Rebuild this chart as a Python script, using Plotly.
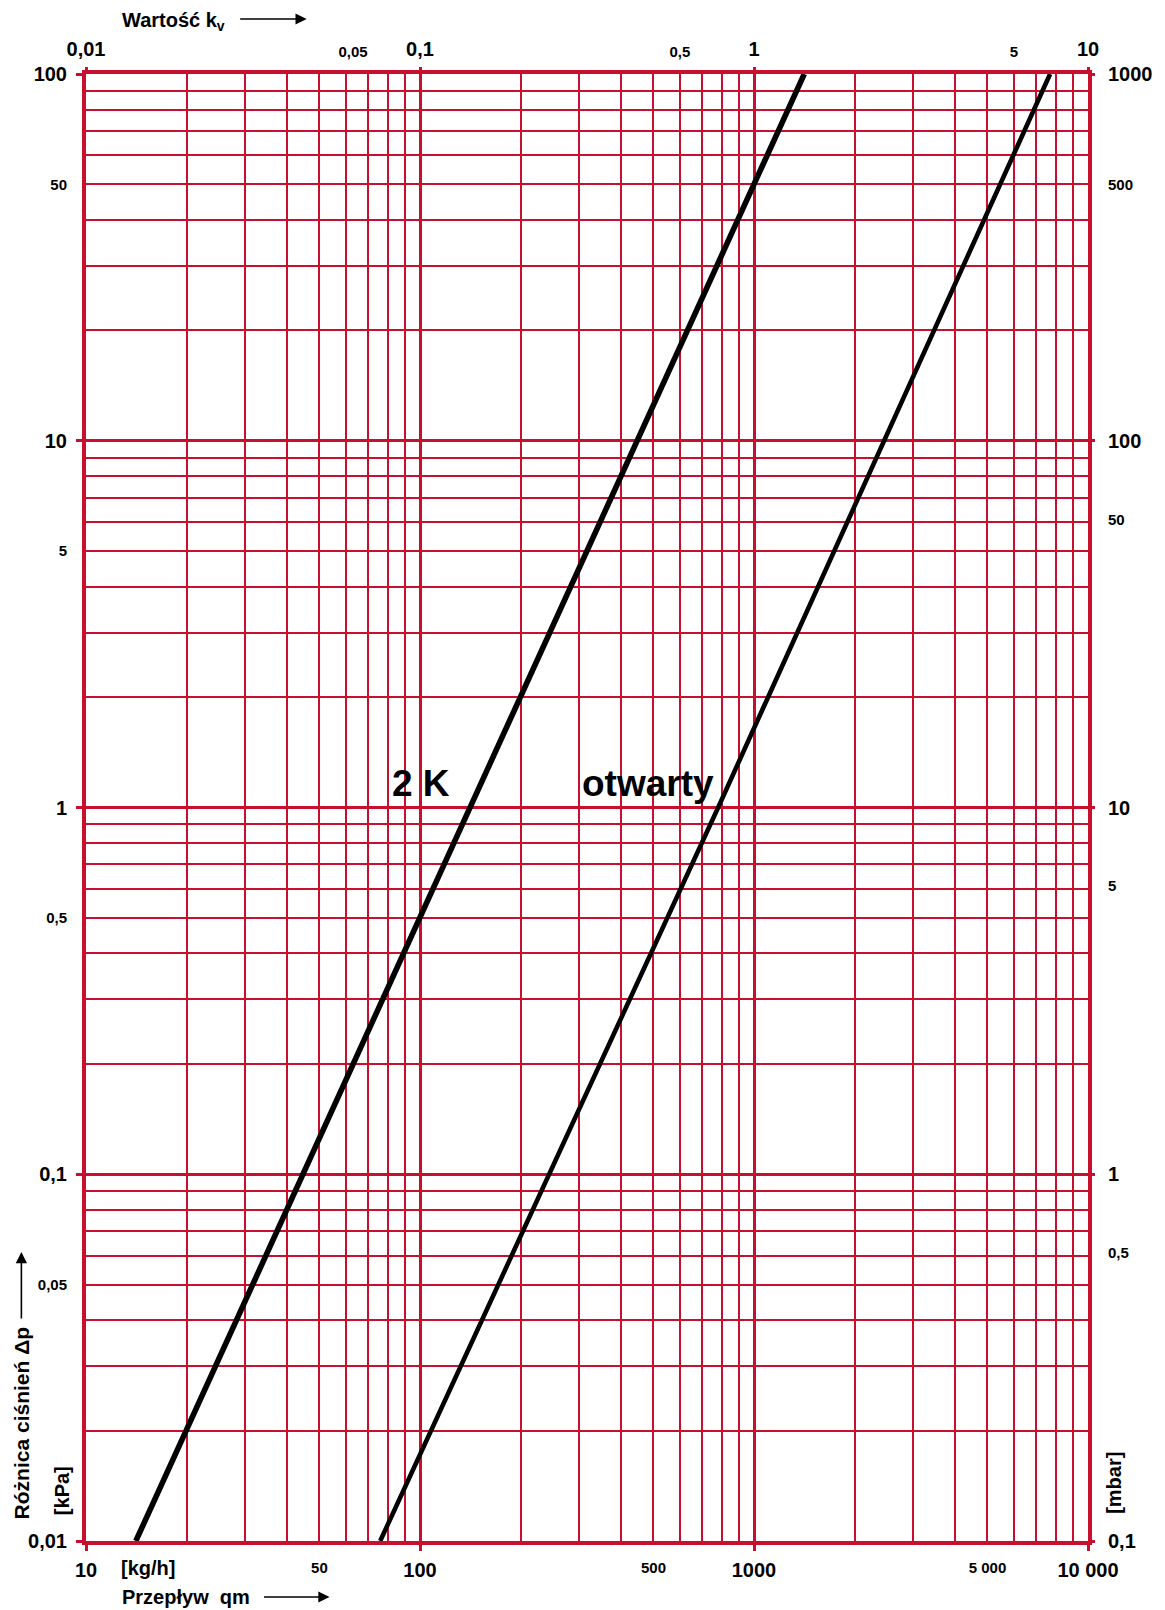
import plotly.graph_objects as go

RED = "#c8102e"
FONT = "Liberation Sans"

# przepływ qm [kg/h] i różnica ciśnień Δp [kPa]
qm_2k = [14.1, 141, 1414]
dp_2k = [0.01, 1, 100]
qm_open = [76, 781, 7700]
dp_open = [0.01, 1, 100]

# opisy osi
qm_major = [10, 100, 1000, 10000]
qm_major_text = ["10", "100", "1000", "10 000"]
qm_minor = [50, 500, 5000]
qm_minor_text = ["50", "500", "5 000"]

kv_major = [0.01, 0.1, 1, 10]
kv_major_text = ["0,01", "0,1", "1", "10"]
# na oryginale te opisy stoją nieco na prawo od swoich linii
kv_minor_pos = [0.063, 0.6, 6.0]
kv_minor_text = ["0,05", "0,5", "5"]

dp_major = [0.01, 0.1, 1, 10, 100]
dp_major_text = ["0,01", "0,1", "1", "10", "100"]
dp_minor = [0.05, 0.5, 5, 50]
dp_minor_text = ["0,05", "0,5", "5", "50"]

mbar_major = [0.1, 1, 10, 100, 1000]
mbar_major_text = ["0,1", "1", "10", "100", "1000"]
# jak na oryginale: 50, 5 i 0,5 przesunięte w górę
mbar_minor_pos = [0.61, 6.1, 61, 500]
mbar_minor_text = ["0,5", "5", "50", "500"]

# strona ma domyślny margines body 8 px
OFF = 8
W, H = 1165 - OFF, 1610 - OFF
L, R, T, B = 86, 1094, 74, 1541   # obszar wykresu we współrzędnych strony


def px(x):
    return (x - L) / (R - L)


def py(y):
    return (B - y) / (B - T)


def grid_vals(lo, hi):
    return [k * 10 ** e for e in range(lo, hi) for k in range(2, 10)]


major_font = dict(family=FONT, size=20, color="black", weight="bold")
minor_font = dict(family=FONT, size=15, color="black", weight="bold")

fig = go.Figure()

fig.add_trace(go.Scatter(x=qm_2k, y=dp_2k, mode="lines",
                         line=dict(color="black", width=5.6),
                         showlegend=False, hoverinfo="skip"))
fig.add_trace(go.Scatter(x=qm_open, y=dp_open, mode="lines",
                         line=dict(color="black", width=4.6),
                         showlegend=False, hoverinfo="skip"))
# puste ślady, żeby osie nakładane zostały narysowane
fig.add_trace(go.Scatter(x=[], y=[], xaxis="x2", yaxis="y2", showlegend=False))
fig.add_trace(go.Scatter(x=[], y=[], xaxis="x3", yaxis="y3", showlegend=False))
fig.add_trace(go.Scatter(x=[], y=[], xaxis="x4", yaxis="y4", showlegend=False))

common = dict(type="log", zeroline=False, fixedrange=True)

fig.update_layout(
    width=W, height=H,
    margin=dict(l=L - OFF, r=1165 - R, t=T - OFF, b=1610 - B),
    paper_bgcolor="white", plot_bgcolor="white",
    showlegend=False,
    xaxis=dict(
        **common, range=[1, 4], side="bottom",
        tickmode="array", tickvals=qm_major, ticktext=qm_major_text,
        tickfont=major_font, ticks="outside", ticklen=6, tickwidth=3,
        tickcolor=RED, ticklabelstandoff=2,
        showgrid=True, gridcolor=RED, gridwidth=3,
        minor=dict(tickmode="array", tickvals=grid_vals(1, 4),
                   showgrid=True, gridcolor=RED, gridwidth=1.6, ticks=""),
        showline=True, linecolor=RED, linewidth=4, mirror=True,
    ),
    yaxis=dict(
        **common, range=[-2, 2], side="left",
        tickmode="array", tickvals=dp_major, ticktext=dp_major_text,
        tickfont=major_font, ticks="outside", ticklen=6, tickwidth=3,
        tickcolor=RED, ticklabelstandoff=5,
        showgrid=True, gridcolor=RED, gridwidth=3,
        minor=dict(tickmode="array", tickvals=grid_vals(-2, 2),
                   showgrid=True, gridcolor=RED, gridwidth=1.6, ticks=""),
        showline=True, linecolor=RED, linewidth=4, mirror=True,
    ),
    xaxis2=dict(
        **common, range=[-2, 1], side="top", overlaying="x", anchor="y",
        tickmode="array", tickvals=kv_major, ticktext=kv_major_text,
        tickfont=major_font, ticks="outside", ticklen=6, tickwidth=3,
        tickcolor=RED, ticklabelstandoff=3, showgrid=False, showline=False,
    ),
    yaxis2=dict(
        **common, range=[-1, 3], side="right", overlaying="y", anchor="x",
        tickmode="array", tickvals=mbar_major, ticktext=mbar_major_text,
        tickfont=major_font, ticks="outside", ticklen=6, tickwidth=3,
        tickcolor=RED, ticklabelstandoff=9, showgrid=False, showline=False,
    ),
    xaxis3=dict(
        **common, range=[1, 4], side="bottom", overlaying="x", anchor="y",
        tickmode="array", tickvals=qm_minor, ticktext=qm_minor_text,
        tickfont=minor_font, ticks="", ticklabelstandoff=16,
        showgrid=False, showline=False,
    ),
    yaxis3=dict(
        **common, range=[-2, 2], side="left", overlaying="y", anchor="x",
        tickmode="array", tickvals=dp_minor, ticktext=dp_minor_text,
        tickfont=minor_font, ticks="", ticklabelstandoff=18,
        showgrid=False, showline=False,
    ),
    xaxis4=dict(
        **common, range=[-2, 1], side="top", overlaying="x", anchor="y",
        tickmode="array", tickvals=kv_minor_pos, ticktext=kv_minor_text,
        tickfont=minor_font, ticks="", ticklabelstandoff=13,
        showgrid=False, showline=False,
    ),
    yaxis4=dict(
        **common, range=[-1, 3], side="right", overlaying="y", anchor="x",
        tickmode="array", tickvals=mbar_minor_pos, ticktext=mbar_minor_text,
        tickfont=minor_font, ticks="", ticklabelstandoff=19,
        showgrid=False, showline=False,
    ),
)

title_font = dict(family=FONT, size=20, color="black", weight="bold")
vert_font = dict(family=FONT, size=21, color="black", weight="bold")
big_font = dict(family=FONT, size=37, color="black", weight="bold")

texts = [
    dict(text="Wartość k<sub>v</sub>", x=px(120), y=py(21), xanchor="left",
         yanchor="middle", font=title_font),
    dict(text="[kg/h]", x=px(119), y=py(1568), xanchor="left",
         yanchor="middle", font=title_font),
    dict(text="Przepływ&nbsp;&nbsp;qm", x=px(120), y=py(1597), xanchor="left",
         yanchor="middle", font=title_font),
    dict(text="Różnica ciśnień Δp", x=px(21), y=py(1423), xanchor="center",
         yanchor="middle", textangle=-90, font=vert_font),
    dict(text="[kPa]", x=px(62), y=py(1491), xanchor="center",
         yanchor="middle", textangle=-90, font=title_font),
    dict(text="[mbar]", x=px(1120), y=py(1483), xanchor="center",
         yanchor="middle", textangle=-90, font=title_font),
    dict(text="2 K", x=px(423), y=py(783), xanchor="center",
         yanchor="middle", font=big_font),
    dict(text="otwarty", x=px(651), y=py(783), xanchor="center",
         yanchor="middle", font=big_font),
]
for t in texts:
    fig.add_annotation(**t, xref="paper", yref="paper", showarrow=False)

# strzałki przy opisach osi: (grot x, grot y, przesunięcie ogona w pikselach)
arrows = [
    dict(x=px(308), y=py(19), ax=-68, ay=0),
    dict(x=px(331), y=py(1597), ax=-67, ay=0),
    dict(x=px(21), y=py(1252), ax=0, ay=68),
]
for a in arrows:
    fig.add_annotation(**a, xref="paper", yref="paper", axref="pixel",
                       ayref="pixel", text="", showarrow=True,
                       arrowhead=2, arrowsize=1.4, arrowwidth=1.6,
                       arrowcolor="black")

fig.write_html("out.html")
